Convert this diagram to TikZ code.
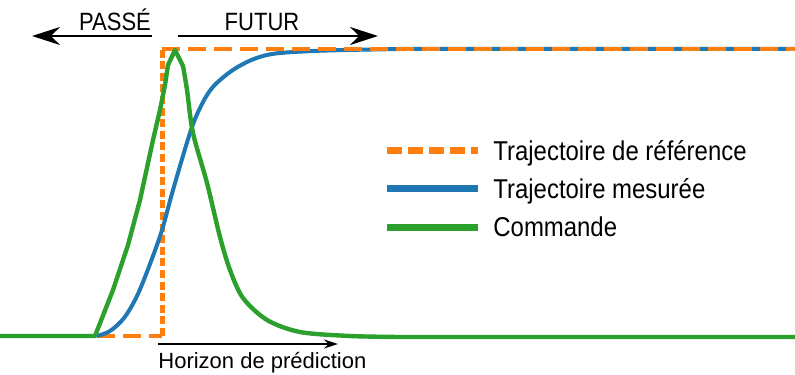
\documentclass[tikz,border=0pt]{standalone}
\usepackage{fontspec}
\setmainfont{Liberation Sans}
\usepackage{graphicx}
\usetikzlibrary{arrows.meta,positioning}
\definecolor{refcolor}{RGB}{255,127,14}
\definecolor{mescolor}{RGB}{31,119,180}
\definecolor{cmdcolor}{RGB}{44,160,44}
\newcommand{\narrowtxt}[1]{\scalebox{0.88}[1]{#1}}

\begin{document}
\begin{tikzpicture}[x=0.5pt, y=-0.5pt,
    reftraj/.style={draw=refcolor, line width=1.6pt, dash pattern=on 9pt off 4pt},
    refstep/.style={draw=refcolor, line width=2.5pt, dash pattern=on 4pt off 1.8pt},
    mestraj/.style={draw=mescolor, line width=2pt, line join=round},
    cmdtraj/.style={draw=cmdcolor, line width=2.2pt, line join=round},
    timearrow/.style={-{Stealth[length=14pt, width=9pt]}, line width=1pt},
    horarrow/.style={-{Stealth[length=7pt, width=4.5pt]}, line width=0.75pt},
    toplabel/.style={font=\fontsize{12.5}{14}\selectfont, inner sep=0pt, anchor=base},
    legtext/.style={font=\fontsize{13.6}{16}\selectfont, inner sep=0pt, anchor=base west},
]
    \useasboundingbox (0,0) rectangle (795,374);

    % reference trajectory (step)
    \draw[reftraj] (97,336) -- (162,336);
    \draw[refstep] (162,336) -- (162,49);

    % measured trajectory
    \draw[mestraj] plot[smooth, tension=0.55] coordinates {(97,336) (110,331) (124,318)
        (137,296) (150,264) (162,230) (173,190) (190,133) (200,108) (212,88) (230,72)
        (247,62) (263,56) (280,53) (313,51) (347,50) (400,49)} -- (795,49);

    \draw[reftraj] (162,49) -- (795,49);

    % command
    \draw[cmdtraj] (0,336) -- (95,336) -- (113,290) -- (128,245) -- (140,200)
        -- (153,140) -- (160,110) -- (165,85) -- (168,65) -- (175,50) -- (183,66)
        -- plot[smooth, tension=0.5] coordinates {(183,66) (187,90) (193,133) (207,183)
        (220,237) (230,270) (243,298) (267,320) (300,332) (350,336) (400,337)} -- (795,337);

    % past / future
    \node[toplabel] (passe) at (115,31) {\narrowtxt{PASSÉ}};
    \node[toplabel] (futur) at (262,31) {\narrowtxt{FUTUR}};
    \coordinate (passeA) at (152,36);
    \coordinate (passeB) at (32,36);
    \coordinate (futurA) at (178,36);
    \coordinate (futurB) at (378,36);
    \draw[timearrow] (passeA) -- (passeB);
    \draw[timearrow] (futurA) -- (futurB);

    % prediction horizon
    \coordinate (horA) at (158,344);
    \coordinate (horB) at (338,344);
    \draw[horarrow] (horA) -- (horB);
    \node[font=\fontsize{11}{13}\selectfont, inner sep=0pt, anchor=base west] (horizon)
        at (158,368) {Horizon de prédiction};

    % legend
    \node[legtext] (legref) at (493,160) {\narrowtxt{Trajectoire de référence}};
    \node[legtext] (legmes) at (493,198) {\narrowtxt{Trajectoire mesurée}};
    \node[legtext] (legcmd) at (493,236) {\narrowtxt{Commande}};
    \coordinate (refA) at (387,150);
    \coordinate (refB) at (478,150);
    \coordinate (mesA) at (387,188);
    \coordinate (mesB) at (478,188);
    \coordinate (cmdA) at (387,227);
    \coordinate (cmdB) at (478,227);
    \draw[draw=refcolor, line width=3.5pt, dash pattern=on 7.5pt off 3pt] (refA) -- (refB);
    \draw[draw=mescolor, line width=3.5pt] (mesA) -- (mesB);
    \draw[draw=cmdcolor, line width=3.5pt] (cmdA) -- (cmdB);
\end{tikzpicture}
\end{document}
